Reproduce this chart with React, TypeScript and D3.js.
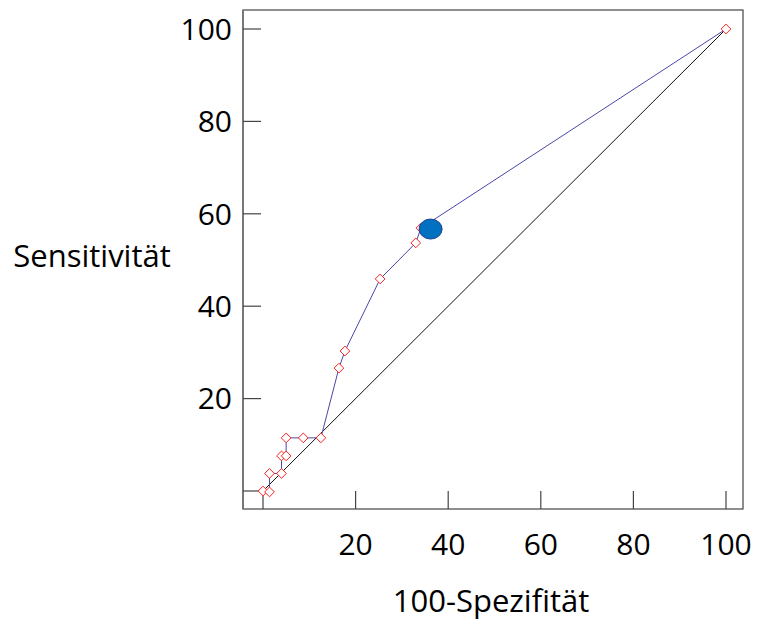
import React, { useEffect, useRef } from 'react';
import * as d3 from 'd3';

// ROC curve points (100-Spezifität, Sensitivität)
const specX = [0, 1.4, 1.4, 4.0, 4.0, 5.0, 5.0, 8.7, 12.5, 16.4, 17.7, 25.3, 33.0, 34.1, 100];
const sensY = [0, -0.2, 3.8, 3.8, 7.6, 7.6, 11.5, 11.5, 11.5, 26.6, 30.3, 45.9, 53.7, 56.9, 100];
const optimum = { x: 36.2, y: 56.7 };
const tickValues = [0, 20, 40, 60, 80, 100];

const W = 757;
const H = 624;

const App = () => {
    const svgRef = useRef(null);

    useEffect(() => {
        const svg = d3.select(svgRef.current);
        svg.selectAll('*').remove();

        const frame = { left: 243, right: 743, top: 10, bottom: 509 };
        const x = d3.scaleLinear().domain([0, 100]).range([263, 726]);
        const y = d3.scaleLinear().domain([0, 100]).range([491, 29]);
        const font = '"Open Sans", sans-serif';
        const tickLen = 18;

        // frame
        svg.append('rect')
            .attr('x', frame.left)
            .attr('y', frame.top)
            .attr('width', frame.right - frame.left)
            .attr('height', frame.bottom - frame.top)
            .attr('fill', 'none')
            .attr('stroke', '#444')
            .attr('stroke-width', 1.2);
        svg.append('line')
            .attr('x1', frame.left).attr('x2', frame.left)
            .attr('y1', frame.top).attr('y2', frame.bottom)
            .attr('stroke', '#777').attr('stroke-width', 2);

        // ticks pointing inward
        tickValues.forEach(v => {
            svg.append('line')
                .attr('x1', frame.left).attr('x2', frame.left + tickLen)
                .attr('y1', y(v)).attr('y2', y(v))
                .attr('stroke', '#444').attr('stroke-width', 1.2);
            svg.append('line')
                .attr('x1', x(v)).attr('x2', x(v))
                .attr('y1', frame.bottom).attr('y2', frame.bottom - tickLen)
                .attr('stroke', '#444').attr('stroke-width', 1.2);
            if (v === 0) return;
            svg.append('text')
                .attr('x', 232)
                .attr('y', y(v))
                .attr('dy', '0.36em')
                .attr('text-anchor', 'end')
                .attr('font-family', font)
                .attr('font-size', 30)
                .attr('fill', '#000')
                .text(v);
            svg.append('text')
                .attr('x', x(v))
                .attr('y', 555)
                .attr('text-anchor', 'middle')
                .attr('font-family', font)
                .attr('font-size', 30)
                .attr('fill', '#000')
                .text(v);
        });

        // axis titles
        svg.append('text')
            .attr('x', 92)
            .attr('y', 267)
            .attr('text-anchor', 'middle')
            .attr('font-family', font)
            .attr('font-size', 31)
            .text('Sensitivität');
        svg.append('text')
            .attr('x', 491)
            .attr('y', 612)
            .attr('text-anchor', 'middle')
            .attr('font-family', font)
            .attr('font-size', 31)
            .text('100-Spezifität');

        // diagonal reference
        svg.append('line')
            .attr('x1', x(0)).attr('y1', y(0))
            .attr('x2', x(100)).attr('y2', y(100))
            .attr('stroke', '#111').attr('stroke-width', 1);

        const pts = specX.map((v, i) => ({ x: v, y: sensY[i] }));

        const line = d3.line()
            .x(d => x(d.x))
            .y(d => y(d.y));

        svg.append('path')
            .datum(pts)
            .attr('fill', 'none')
            .attr('stroke', '#4848A8')
            .attr('stroke-width', 1)
            .attr('d', line);

        const diamond = d3.symbol().type(d3.symbolDiamond2).size(60);
        svg.selectAll('.pt')
            .data(pts)
            .enter()
            .append('path')
            .attr('class', 'pt')
            .attr('transform', d => `translate(${x(d.x)},${y(d.y)})`)
            .attr('d', diamond)
            .attr('fill', '#fff')
            .attr('stroke', '#FF2020')
            .attr('stroke-width', 1);

        svg.append('ellipse')
            .attr('cx', x(optimum.x))
            .attr('cy', y(optimum.y))
            .attr('rx', 11.5)
            .attr('ry', 10)
            .attr('fill', '#0070C0')
            .attr('stroke', '#1F3F8F')
            .attr('stroke-width', 1);
    }, []);

    return (
        <svg
            ref={svgRef}
            width={W}
            height={H}
            style={{ position: 'absolute', left: 0, top: 0, background: '#fff' }}
        ></svg>
    );
};

export default App;
